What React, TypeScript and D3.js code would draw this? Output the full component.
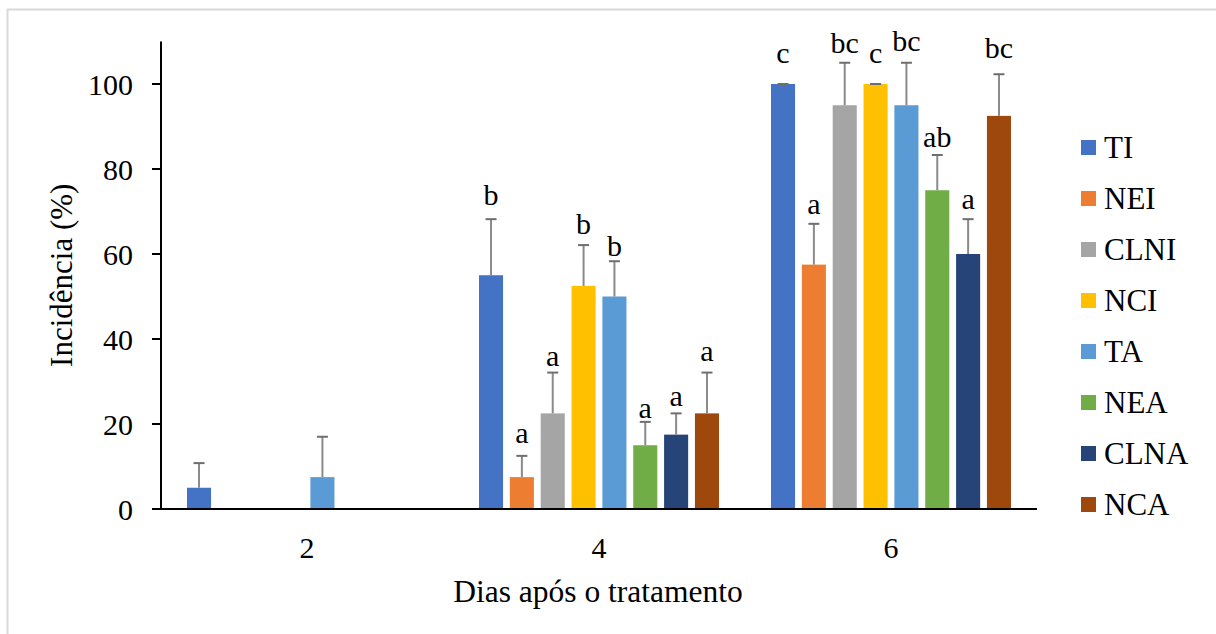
import React from "react";
import * as d3 from "d3";

const days = ["2", "4", "6"];
const series = ["TI", "NEI", "CLNI", "NCI", "TA", "NEA", "CLNA", "NCA"];
const colors = ["#4472C4", "#ED7D31", "#A5A5A5", "#FFC000", "#5B9BD5", "#70AD47", "#264478", "#9E480E"];

// values per day, in series order
const day2 = [5, 0, 0, 0, 7.5, 0, 0, 0];
const day4 = [55, 7.5, 22.5, 52.5, 50, 15, 17.5, 22.5];
const day6 = [100, 57.5, 95, 100, 95, 75, 60, 92.5];

// error bars (upper)
const err2 = [5.8, 0, 0, 0, 9.5, 0, 0, 0];
const err4 = [13.2, 5, 9.6, 9.6, 8.3, 5.5, 5, 9.6];
const err6 = [0, 9.6, 10, 0, 10, 8.3, 8.2, 9.8];

// significance letters
const letters2 = ["", "", "", "", "", "", "", ""];
const letters4 = ["b", "a", "a", "b", "b", "a", "a", "a"];
const letters6 = ["c", "a", "bc", "c", "bc", "ab", "a", "bc"];

// letter baseline heights (data units)
const labelAt2 = [0, 0, 0, 0, 0, 0, 0, 0];
const labelAt4 = [71.5, 15.5, 33.7, 64.7, 59.5, 21.3, 24.2, 34.9];
const labelAt6 = [105, 69.4, 107.2, 104.9, 107.8, 85.1, 70.7, 106.1];

const yTicks = [0, 20, 40, 60, 80, 100];

const values = [day2, day4, day6];
const errs = [err2, err4, err6];
const letters = [letters2, letters4, letters6];
const labelAt = [labelAt2, labelAt4, labelAt6];

const FONT = "'Liberation Serif', 'Times New Roman', serif";

export default function App() {
  const W = 1216;
  const H = 634;
  const left = 161;
  const right = 1037;
  const y = d3.scaleLinear().domain([0, 110]).range([509, 41.5]);
  const x0 = d3.scaleBand<string>().domain(days).range([left, right]);
  const x1 = d3
    .scaleBand<string>()
    .domain(series)
    .range([26, x0.bandwidth() - 26])
    .paddingInner(0.22);
  const bw = x1.bandwidth();
  const capW = 11;

  return (
    <div style={{ position: "absolute", left: 0, top: 0 }}>
      <svg width={W} height={H} style={{ display: "block", fontFamily: FONT }}>
        <rect x={0} y={0} width={W} height={H} fill="#fff" />
        <rect x={7.5} y={9.5} width={W + 20} height={H + 20} fill="none" stroke="#d9d9d9" strokeWidth={2} />

        {/* bars */}
        {days.map((d, gi) =>
          series.map((s, si) => {
            const v = values[gi][si];
            const bx = (x0(d) as number) + (x1(s) as number);
            return (
              <rect
                key={`b-${d}-${s}`}
                x={bx}
                y={y(v)}
                width={bw}
                height={y(0) - y(v)}
                fill={colors[si]}
              />
            );
          })
        )}

        {/* error bars */}
        {days.map((d, gi) =>
          series.map((s, si) => {
            const v = values[gi][si];
            const e = errs[gi][si];
            const cx = (x0(d) as number) + (x1(s) as number) + bw / 2;
            return (
              <g key={`e-${d}-${s}`} stroke="#8a8a8a" strokeWidth={2}>
                {e > 0 && <line x1={cx} x2={cx} y1={y(v)} y2={y(v + e)} />}
                <line x1={cx - capW / 2} x2={cx + capW / 2} y1={y(v + e)} y2={y(v + e)} stroke="#6e6e6e" />
              </g>
            );
          })
        )}

        {/* letters */}
        {days.map((d, gi) =>
          series.map((s, si) => {
            const t = letters[gi][si];
            if (!t) return null;
            const cx = (x0(d) as number) + (x1(s) as number) + bw / 2;
            return (
              <text
                key={`l-${d}-${s}`}
                x={cx}
                y={y(labelAt[gi][si])}
                textAnchor="middle"
                fontSize={30}
                fill="#000"
              >
                {t}
              </text>
            );
          })
        )}

        {/* y axis */}
        <line x1={left} x2={left} y1={y(110)} y2={y(0)} stroke="#000" strokeWidth={2} />
        {yTicks.map((t) => (
          <g key={`yt-${t}`}>
            <line x1={left - 9} x2={left} y1={y(t)} y2={y(t)} stroke="#000" strokeWidth={2} />
            <text x={133} y={y(t) + 10.5} textAnchor="end" fontSize={30} fill="#000">
              {t}
            </text>
          </g>
        ))}

        {/* x axis */}
        <line x1={left - 9} x2={right} y1={y(0)} y2={y(0)} stroke="#000" strokeWidth={2} />
        {days.map((d) => (
          <text
            key={`xt-${d}`}
            x={(x0(d) as number) + x0.bandwidth() / 2}
            y={558}
            textAnchor="middle"
            fontSize={30}
            fill="#000"
          >
            {d}
          </text>
        ))}

        {/* axis titles */}
        <text x={598} y={602} textAnchor="middle" fontSize={31.5} fill="#000">
          Dias após o tratamento
        </text>
        <text
          transform={`translate(72, ${(y(110) + y(0)) / 2}) rotate(-90)`}
          textAnchor="middle"
          fontSize={31}
          fill="#000"
        >
          Incidência (%)
        </text>

        {/* legend */}
        {series.map((s, i) => {
          const cy = 147.5 + i * 51;
          return (
            <g key={`lg-${s}`}>
              <rect x={1081} y={cy - 7.5} width={15} height={15} fill={colors[i]} />
              <text x={1104} y={cy + 10} fontSize={31} fill="#000">
                {s}
              </text>
            </g>
          );
        })}
      </svg>
    </div>
  );
}
